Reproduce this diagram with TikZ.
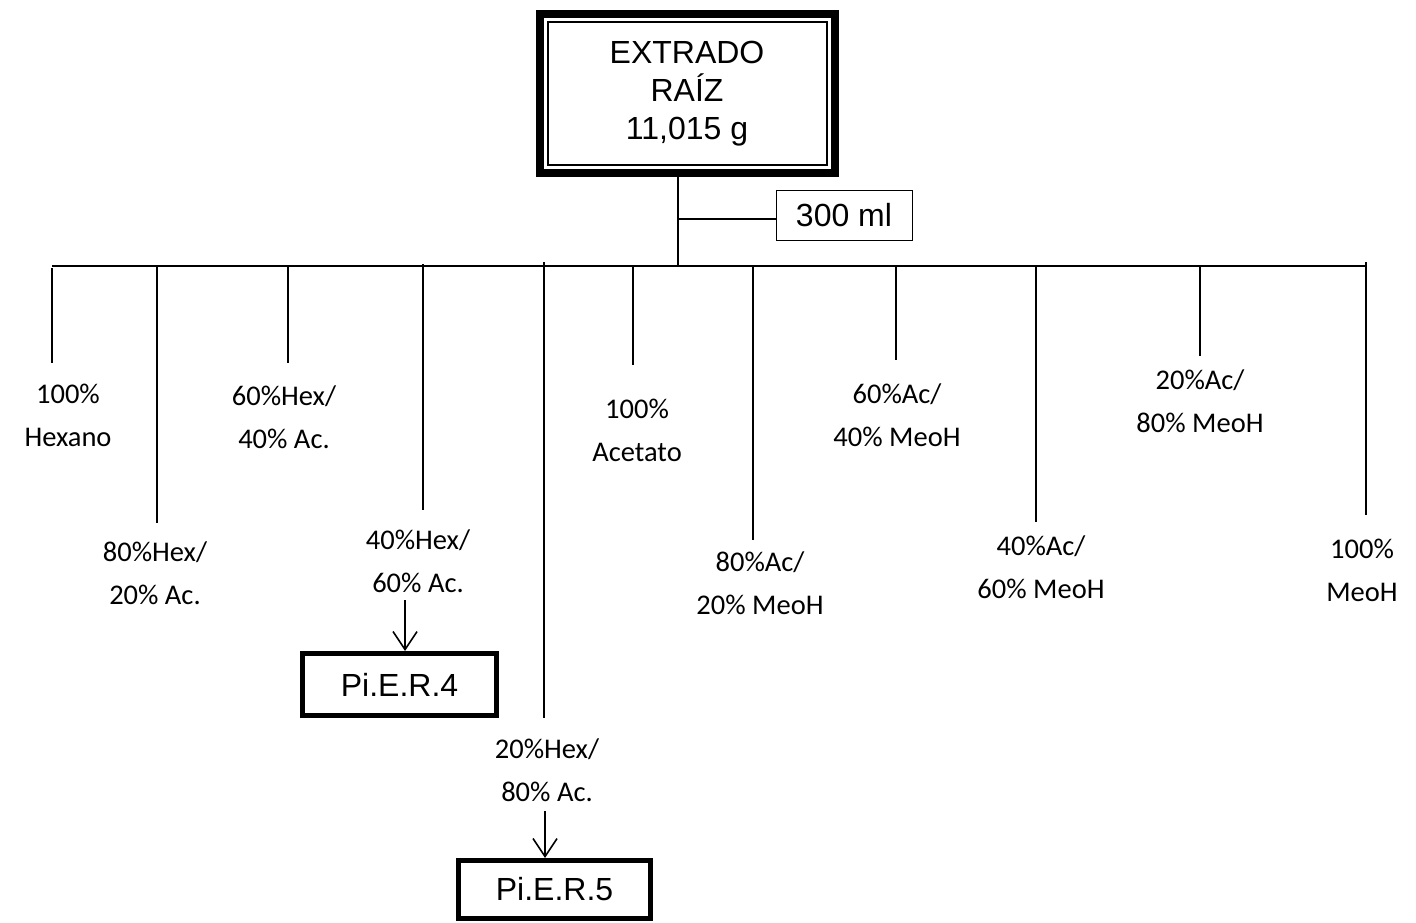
\documentclass[tikz,border=0pt]{standalone}
\usepackage{fontspec}
\setmainfont{Carlito}
\newfontfamily\boxfont{Liberation Sans}
\usetikzlibrary{arrows.meta}

\tikzset{
  lbl/.style={align=center,font=\fontsize{28.5}{43}\selectfont,inner sep=0pt},
  boxtxt/.style={font=\boxfont\fontsize{32}{38}\selectfont},
  fracbox/.style={draw,line width=5pt,boxtxt,minimum width=194pt,minimum height=60pt,inner sep=0pt},
  drop/.style={line width=1.6pt},
  toarr/.style={line width=1.6pt,-{Straight Barb[length=18pt,width=24pt,line width=1.6pt]}}
}

\begin{document}
\begin{tikzpicture}[x=1pt,y=-1pt]
\useasboundingbox (0,0) rectangle (1416,923);
%
% Extract
\node[draw,line width=2pt,align=center,boxtxt,minimum width=279pt,minimum height=143pt,inner sep=0pt]
  (extrado) at (687,93.5) {EXTRADO\\RAÍZ\\11,015 g};
\draw[line width=8pt] ([shift={(-7pt,7pt)}]extrado.north west) rectangle ([shift={(7pt,-7pt)}]extrado.south east);
% Solvent volume
\node[draw,line width=1pt,boxtxt,minimum width=136pt,minimum height=50pt,inner sep=0pt] (ml) at (844,215) {300 ml};
\coordinate (stemtop) at (678,177);
\coordinate (stembot) at (678,266);
\coordinate (branch) at (678,219);
\draw[drop] (stemtop) -- (stembot);
\draw[drop] (branch) -- (branch -| ml.west);

%
% Bus
\coordinate (busl) at (52,266);
\coordinate (busr) at (1366,266);
\draw[drop] (busl) -- (busr);

% Drops
\foreach \n/\x/\ya/\yb in {hex/52/268/363, hexb/157/266/523, hexc/288/266/363, hexd/423/264/510,
  hexe/544/262/718, ac/633/266/365, acb/753/266/540, acc/896/266/360, acd/1036/266/522,
  ace/1200/266/356, meoh/1366/262/515}{
  \coordinate (\n top) at (\x,\ya);
  \coordinate (\n end) at (\x,\yb);
  \draw[drop] (\n top) -- (\n end);
}

% Labels
\node[lbl] (l100hex) at (68,415) {100\%\\Hexano};
\node[lbl] (l80hex) at (155,573) {80\%Hex/\\20\% Ac.};
\node[lbl] (l60hex) at (284,417) {60\%Hex/\\40\% Ac.};
\node[lbl] (l40hex) at (418,561) {40\%Hex/\\60\% Ac.};
\node[lbl] (l20hex) at (547,770) {20\%Hex/\\80\% Ac.};
\node[lbl] (l100ac) at (637,430) {100\%\\Acetato};
\node[lbl] (l80ac) at (760,583) {80\%Ac/\\20\% MeoH};
\node[lbl] (l60ac) at (897,415) {60\%Ac/\\40\% MeoH};
\node[lbl] (l40ac) at (1041,567) {40\%Ac/\\60\% MeoH};
\node[lbl] (l20ac) at (1200,401) {20\%Ac/\\80\% MeoH};
\node[lbl] (l100meoh) at (1362,570) {100\%\\MeoH};

%
% Fractions
\node[fracbox,minimum height=62pt] (pier4) at (399.5,684.5) {Pi.E.R.4};
\node[fracbox,minimum width=192pt,minimum height=58pt] (pier5) at (554.5,889.5) {Pi.E.R.5};
\coordinate (a4) at (405,600);
\coordinate (a5) at (545,811);
\draw[toarr] (a4) -- (a4 |- pier4.north);
\draw[toarr] (a5) -- (a5 |- pier5.north);
\end{tikzpicture}
\end{document}
